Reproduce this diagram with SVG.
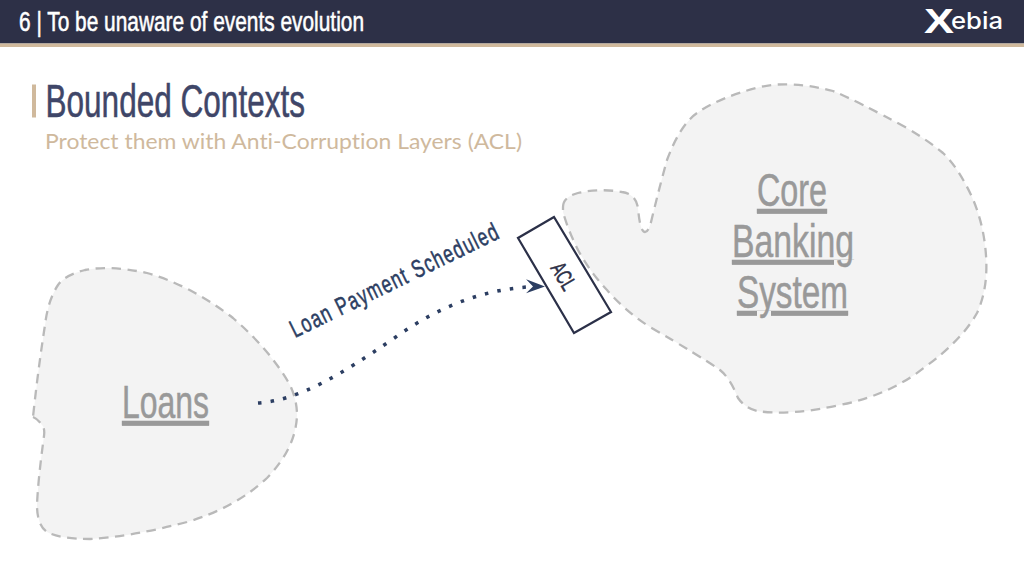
<svg xmlns="http://www.w3.org/2000/svg" width="1024" height="576" viewBox="0 0 1024 576">
<style>
.cond{font-family:"Liberation Sans Narrow","Liberation Sans",sans-serif;stroke-width:.55}
.blob{fill:#f3f3f3;stroke:#b9b9b9;stroke-width:2.300;stroke-dasharray:9.500 6.500}
.ctx{font-size:47px;fill:#999;stroke:#999;text-decoration:underline}
</style>
<defs>
<marker id="arrow" markerUnits="userSpaceOnUse" markerWidth="22" markerHeight="18" refX="19" refY="7" orient="auto" viewBox="0 0 22 14"><path d="M0 0L19 7L0 14L7 7Z" fill="#2c3e62"/></marker>
</defs>
<rect width="1024" height="576" fill="#fff"/>
<g id="header">
<rect width="1024" height="43.500" fill="#2d3047"/>
<rect y="43.500" width="1024" height="3.500" fill="#d0b99c"/>
<text class="cond" x="19" y="31" font-size="28" fill="#fff" stroke="#fff" textLength="345" lengthAdjust="spacingAndGlyphs">6 | To be unaware of events evolution</text>
</g>
<g id="logo">
<text x="924" y="33" font-family="'Liberation Sans',sans-serif" font-weight="700" font-size="35" fill="#fff" textLength="30" lengthAdjust="spacingAndGlyphs">X</text>
<text x="951" y="29" font-family="Inter,'Liberation Sans',sans-serif" font-weight="500" font-size="23" fill="#fff" textLength="52" lengthAdjust="spacingAndGlyphs">ebia</text>
</g>
<g id="title">
<rect x="32" y="84.500" width="4" height="33" fill="#d0b99c"/>
<text class="cond" x="45.500" y="117" font-size="46" fill="#3f4668" stroke="#3f4668" textLength="259.500" lengthAdjust="spacingAndGlyphs">Bounded Contexts</text>
<text x="45" y="149" font-family="Lato,sans-serif" font-size="22" fill="#cfb99d" style="font-variant-ligatures:none" textLength="477" lengthAdjust="spacingAndGlyphs">Protect them with Anti-Corruption Layers (ACL)</text>
</g>
<g id="core-banking">
<path class="blob" d="M563 207Q563 197 578 193Q600 188 622 192Q636 194 638 208Q640 232 645 232Q649 232 652 218Q660 185 667 160Q680 125 697 113Q720 97 760 87Q790 80 833 91Q855 100 907 128Q930 142 943 153Q958 167 972 197Q982 220 985 245Q990 285 977 313Q962 340 925 367Q890 395 840 405Q790 416 757 411Q745 408 738 398Q730 378 720 370Q700 356 650 327Q625 311 607 290Q590 272 578 250Q568 230 563 212Z"/>
<text class="cond ctx" x="757" y="206" textLength="70" lengthAdjust="spacingAndGlyphs">Core</text>
<text class="cond ctx" x="732" y="257" textLength="122" lengthAdjust="spacingAndGlyphs">Banking</text>
<text class="cond ctx" x="737" y="308" textLength="111" lengthAdjust="spacingAndGlyphs">System</text>
</g>
<g id="loans">
<path class="blob" d="M33 417Q38 419 42 425Q45 428 44 436Q38 480 37 505Q37 525 47 532Q60 539 90 539Q130 537 187 522Q235 508 267 478Q296 448 297 415Q297 400 290 385Q270 350 233 318Q190 285 147 273Q110 265 85 270Q65 275 58 285Q48 300 45 325Q38 370 33 417Z"/>
<text class="cond ctx" x="122" y="418" textLength="87" lengthAdjust="spacingAndGlyphs">Loans</text>
</g>
<g id="acl">
<polygon points="554,217 518,238 574,333 611,312" fill="#fff" stroke="#2b3048" stroke-width="2.200"/>
<text class="cond" transform="translate(564 276) rotate(59.500)" y="8" font-size="22" fill="#2d3047" stroke="#2d3047" text-anchor="middle" textLength="28" lengthAdjust="spacingAndGlyphs">ACL</text>
</g>
<g id="connectors">
<path d="M258 403C300 400 340 375 393 339C440 305 490 286 545 286.500" fill="none" stroke="#2c3e62" stroke-width="3.500" stroke-dasharray="3.500 9.200" marker-end="url(#arrow)"/>
<text class="cond" transform="translate(295 338) rotate(-26)" font-size="25" letter-spacing="2" fill="#2c3e62" stroke="#2c3e62" textLength="230" lengthAdjust="spacingAndGlyphs">Loan Payment Scheduled</text>
</g>
</svg>
